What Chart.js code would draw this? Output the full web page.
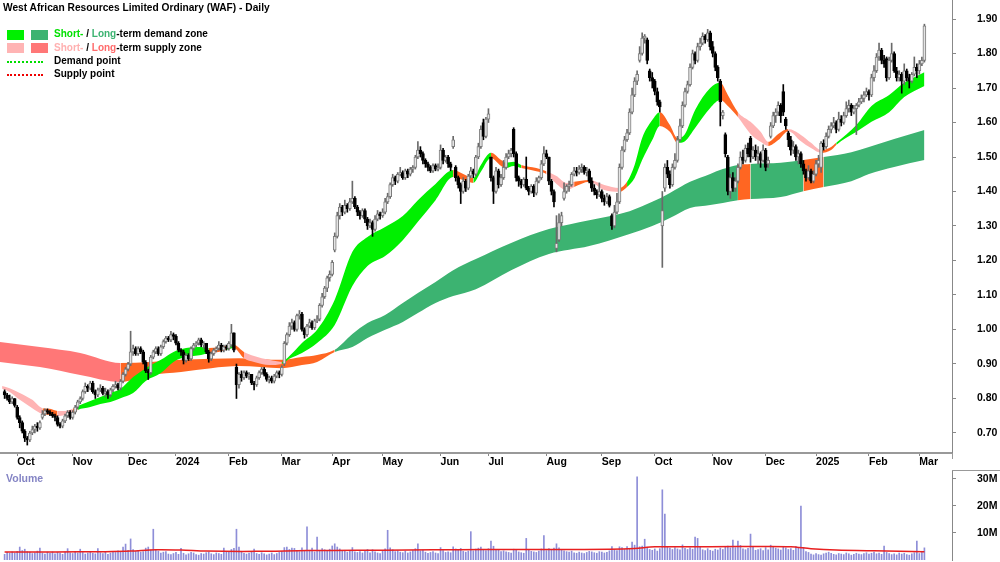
<!DOCTYPE html>
<html><head><meta charset="utf-8">
<script src="https://cdn.jsdelivr.net/npm/chart.js@4.4.1/dist/chart.umd.min.js"></script>
<style>
html,body{margin:0;padding:0;background:#fff;}
#wrap{position:relative;width:1000px;height:562px;overflow:hidden;font-family:'Liberation Sans',Arial,sans-serif;}
canvas{position:absolute;left:0;}
.t{position:absolute;font-weight:bold;font-size:10px;color:#000;white-space:nowrap;line-height:12px;}
.box{position:absolute;width:17px;height:10px;}
.dot{position:absolute;width:36px;height:0;border-top:2px dotted;}
</style></head><body>
<div id="wrap">
<canvas id="pc" width="1000" height="470" style="top:0"></canvas>
<canvas id="vc" width="1000" height="92" style="top:470px"></canvas>
<div class="t" style="left:3px;top:2px;font-size:10.2px">West African Resources Limited Ordinary (WAF) - Daily</div>
<div class="box" style="left:7px;top:30px;background:#00f000"></div>
<div class="box" style="left:31px;top:30px;background:#3cb371"></div>
<div class="t" style="left:54px;top:28px"><span style="color:#00e000">Short-</span> / <span style="color:#3cb371">Long</span>-term demand zone</div>
<div class="box" style="left:7px;top:43px;background:#ffb4b4"></div>
<div class="box" style="left:31px;top:43px;background:#ff7777"></div>
<div class="t" style="left:54px;top:42px"><span style="color:#ffb0b0">Short-</span> / <span style="color:#ff6b6b">Long</span>-term supply zone</div>
<div class="dot" style="left:7px;top:61px;border-color:#00dd00"></div>
<div class="t" style="left:54px;top:55px">Demand point</div>
<div class="dot" style="left:7px;top:74px;border-color:#ee0000"></div>
<div class="t" style="left:54px;top:68px">Supply point</div>
<div class="t" style="left:6px;top:472px;color:#8484c4;font-size:10.5px">Volume</div>
<div style="position:absolute;left:952px;top:470px;width:48px;height:1px;background:#999"></div>
<div style="position:absolute;left:952px;top:453px;width:1px;height:6px;background:#999"></div>
</div>
<script>
// ---- daily bars (index 0 = 25 Sep 2023 ... 365 = 5 Mar 2025) ----
const opens = [
0.82,0.81,0.80,0.79,0.80,0.775,0.745,0.73,0.705,0.685,
0.68,0.70,0.71,0.72,0.715,0.745,0.755,0.765,0.76,0.755,
0.75,0.745,0.725,0.72,0.735,0.75,0.76,0.745,0.76,0.775,
0.79,0.80,0.82,0.835,0.83,0.845,0.82,0.81,0.825,0.83,
0.815,0.82,0.81,0.825,0.835,0.84,0.83,0.85,0.87,0.885,
0.90,0.935,0.945,0.93,0.945,0.935,0.905,0.88,0.875,0.92,
0.935,0.945,0.93,0.95,0.965,0.975,0.97,0.985,0.98,0.96,
0.94,0.935,0.91,0.925,0.915,0.945,0.955,0.96,0.97,0.955,
0.96,0.935,0.915,0.93,0.94,0.945,0.955,0.94,0.95,0.945,
0.955,0.99,0.89,0.84,0.87,0.86,0.875,0.865,0.87,0.845,
0.84,0.86,0.875,0.885,0.87,0.855,0.86,0.85,0.865,0.875,
0.87,0.90,0.96,0.985,1.01,1.02,1.00,1.04,1.045,1.00,
0.985,1.01,1.02,1.005,1.025,1.03,1.07,1.095,1.12,1.15,
1.16,1.23,1.27,1.33,1.355,1.34,1.36,1.35,1.37,1.38,
1.355,1.34,1.33,1.345,1.32,1.30,1.31,1.29,1.32,1.335,
1.33,1.34,1.37,1.385,1.42,1.44,1.43,1.45,1.455,1.44,
1.46,1.45,1.465,1.47,1.50,1.52,1.51,1.49,1.48,1.47,
1.46,1.475,1.465,1.47,1.52,1.49,1.50,1.48,1.53,1.47,
1.44,1.42,1.40,1.43,1.41,1.445,1.46,1.45,1.50,1.53,
1.60,1.56,1.61,1.50,1.44,1.40,1.46,1.42,1.44,1.47,
1.50,1.51,1.58,1.51,1.44,1.43,1.42,1.435,1.41,1.40,
1.415,1.395,1.43,1.44,1.48,1.51,1.50,1.43,1.40,1.235,
1.26,1.31,1.38,1.40,1.415,1.42,1.45,1.46,1.455,1.465,
1.47,1.455,1.46,1.43,1.41,1.40,1.39,1.40,1.38,1.37,
1.385,1.33,1.30,1.34,1.37,1.47,1.52,1.55,1.57,1.63,
1.68,1.72,1.78,1.80,1.845,1.84,1.75,1.73,1.72,1.69,
1.66,1.30,1.41,1.47,1.45,1.42,1.47,1.49,1.55,1.59,
1.65,1.69,1.71,1.76,1.80,1.78,1.82,1.83,1.85,1.84,
1.86,1.82,1.80,1.76,1.72,1.62,1.565,1.50,1.40,1.44,
1.41,1.43,1.47,1.50,1.49,1.525,1.555,1.50,1.52,1.50,
1.51,1.49,1.52,1.48,1.56,1.59,1.62,1.63,1.65,1.69,
1.61,1.57,1.55,1.52,1.53,1.50,1.51,1.48,1.46,1.44,
1.46,1.43,1.45,1.48,1.47,1.54,1.53,1.56,1.58,1.59,
1.60,1.58,1.61,1.60,1.62,1.64,1.65,1.63,1.64,1.65,
1.66,1.67,1.68,1.69,1.68,1.73,1.75,1.79,1.81,1.78,
1.785,1.73,1.78,1.80,1.75,1.73,1.74,1.72,1.75,1.73,
1.72,1.74,1.76,1.75,1.77,1.78];
const highs = [
0.825,0.815,0.81,0.805,0.80,0.78,0.75,0.735,0.71,0.69,
0.705,0.72,0.725,0.73,0.735,0.765,0.77,0.77,0.765,0.76,
0.755,0.75,0.73,0.74,0.755,0.765,0.765,0.765,0.78,0.795,
0.805,0.825,0.845,0.84,0.85,0.85,0.825,0.83,0.84,0.835,
0.83,0.825,0.83,0.84,0.85,0.845,0.855,0.875,0.89,0.905,
0.995,0.955,0.95,0.95,0.95,0.94,0.91,0.885,0.925,0.94,
0.95,0.95,0.955,0.97,0.98,0.98,0.995,0.99,0.985,0.965,
0.945,0.94,0.93,0.93,0.95,0.96,0.965,0.975,0.975,0.965,
0.96,0.94,0.935,0.945,0.95,0.965,0.96,0.955,0.955,0.965,
1.015,0.99,0.90,0.875,0.88,0.88,0.88,0.875,0.87,0.85,
0.865,0.88,0.89,0.89,0.875,0.865,0.865,0.87,0.88,0.88,
0.895,0.965,0.99,1.02,1.03,1.025,1.045,1.055,1.05,1.005,
1.015,1.03,1.025,1.03,1.04,1.075,1.105,1.125,1.155,1.17,
1.20,1.28,1.34,1.365,1.36,1.375,1.365,1.38,1.43,1.385,
1.36,1.345,1.35,1.35,1.325,1.32,1.315,1.33,1.345,1.34,
1.35,1.38,1.395,1.425,1.45,1.445,1.455,1.47,1.46,1.465,
1.465,1.47,1.475,1.505,1.545,1.53,1.515,1.495,1.485,1.475,
1.48,1.48,1.48,1.535,1.525,1.505,1.505,1.485,1.56,1.475,
1.445,1.425,1.44,1.435,1.45,1.47,1.465,1.505,1.54,1.59,
1.61,1.615,1.64,1.50,1.445,1.47,1.465,1.45,1.49,1.51,
1.52,1.525,1.585,1.515,1.445,1.435,1.44,1.50,1.415,1.42,
1.42,1.44,1.445,1.49,1.53,1.52,1.50,1.435,1.405,1.33,
1.335,1.34,1.425,1.42,1.43,1.455,1.47,1.47,1.475,1.48,
1.475,1.47,1.465,1.44,1.42,1.405,1.425,1.405,1.39,1.395,
1.39,1.335,1.36,1.395,1.48,1.53,1.56,1.58,1.64,1.70,
1.73,1.75,1.82,1.86,1.855,1.845,1.755,1.745,1.725,1.70,
1.665,1.40,1.48,1.49,1.46,1.48,1.51,1.56,1.61,1.66,
1.70,1.72,1.77,1.81,1.805,1.83,1.845,1.86,1.855,1.87,
1.865,1.835,1.805,1.765,1.725,1.635,1.57,1.505,1.45,1.455,
1.44,1.48,1.515,1.52,1.535,1.54,1.56,1.53,1.535,1.53,
1.515,1.535,1.525,1.50,1.60,1.63,1.64,1.66,1.655,1.71,
1.615,1.575,1.56,1.545,1.535,1.52,1.515,1.49,1.465,1.475,
1.465,1.46,1.49,1.505,1.545,1.55,1.57,1.59,1.60,1.615,
1.605,1.63,1.62,1.63,1.66,1.665,1.655,1.65,1.655,1.67,
1.68,1.69,1.70,1.695,1.74,1.765,1.80,1.83,1.815,1.795,
1.79,1.79,1.83,1.805,1.76,1.75,1.745,1.77,1.755,1.74,
1.745,1.79,1.77,1.78,1.79,1.885];
const lows = [
0.80,0.795,0.785,0.785,0.775,0.74,0.715,0.70,0.675,0.665,
0.675,0.695,0.70,0.705,0.71,0.74,0.75,0.755,0.75,0.745,
0.735,0.72,0.715,0.715,0.73,0.745,0.74,0.74,0.755,0.77,
0.785,0.795,0.815,0.82,0.825,0.815,0.80,0.805,0.82,0.81,
0.805,0.80,0.805,0.82,0.83,0.825,0.825,0.845,0.865,0.88,
0.895,0.925,0.925,0.925,0.93,0.90,0.875,0.855,0.87,0.915,
0.93,0.925,0.925,0.945,0.96,0.965,0.965,0.97,0.955,0.935,
0.925,0.90,0.905,0.91,0.91,0.94,0.95,0.955,0.95,0.945,
0.93,0.905,0.91,0.925,0.935,0.94,0.935,0.935,0.94,0.94,
0.95,0.935,0.80,0.83,0.85,0.855,0.86,0.855,0.84,0.825,
0.835,0.855,0.87,0.865,0.85,0.845,0.845,0.845,0.86,0.86,
0.865,0.895,0.955,0.98,1.00,0.995,0.995,1.03,0.995,0.975,
0.98,1.005,1.00,1.00,1.02,1.025,1.065,1.09,1.11,1.14,
1.155,1.225,1.265,1.32,1.33,1.335,1.34,1.345,1.365,1.35,
1.33,1.32,1.325,1.31,1.29,1.295,1.27,1.285,1.315,1.32,
1.325,1.335,1.365,1.38,1.415,1.42,1.425,1.445,1.435,1.435,
1.44,1.445,1.455,1.465,1.495,1.50,1.48,1.47,1.46,1.455,
1.455,1.46,1.46,1.465,1.48,1.485,1.47,1.46,1.525,1.43,
1.41,1.365,1.395,1.40,1.405,1.44,1.44,1.445,1.495,1.525,
1.55,1.555,1.60,1.43,1.365,1.395,1.41,1.415,1.435,1.465,
1.495,1.50,1.50,1.43,1.415,1.41,1.415,1.405,1.39,1.395,
1.385,1.39,1.425,1.435,1.475,1.495,1.42,1.39,1.355,1.225,
1.255,1.30,1.375,1.395,1.40,1.415,1.445,1.445,1.45,1.455,
1.45,1.445,1.425,1.40,1.39,1.38,1.385,1.37,1.36,1.365,
1.355,1.29,1.295,1.335,1.365,1.465,1.515,1.545,1.565,1.625,
1.675,1.71,1.775,1.795,1.83,1.77,1.72,1.70,1.68,1.65,
1.63,1.18,1.40,1.44,1.41,1.415,1.465,1.485,1.545,1.585,
1.645,1.685,1.705,1.755,1.77,1.775,1.81,1.825,1.83,1.835,
1.81,1.79,1.75,1.72,1.59,1.61,1.50,1.39,1.38,1.40,
1.40,1.425,1.465,1.48,1.485,1.50,1.485,1.495,1.49,1.48,
1.47,1.485,1.46,1.47,1.555,1.585,1.60,1.62,1.60,1.62,
1.58,1.53,1.505,1.51,1.49,1.48,1.47,1.45,1.43,1.435,
1.425,1.425,1.445,1.47,1.455,1.52,1.525,1.555,1.57,1.585,
1.57,1.575,1.59,1.595,1.615,1.63,1.62,1.625,1.565,1.645,
1.655,1.66,1.675,1.665,1.675,1.72,1.745,1.78,1.77,1.76,
1.72,1.725,1.775,1.745,1.72,1.72,1.685,1.71,1.72,1.70,
1.715,1.735,1.73,1.74,1.765,1.775];
const closes = [
0.81,0.80,0.79,0.80,0.78,0.745,0.73,0.705,0.685,0.68,
0.70,0.71,0.72,0.715,0.73,0.755,0.765,0.76,0.755,0.75,
0.745,0.725,0.72,0.735,0.75,0.76,0.745,0.76,0.775,0.79,
0.80,0.82,0.835,0.83,0.845,0.82,0.81,0.825,0.83,0.815,
0.82,0.81,0.825,0.835,0.84,0.83,0.85,0.87,0.885,0.90,
0.935,0.945,0.93,0.945,0.935,0.905,0.88,0.875,0.92,0.935,
0.945,0.93,0.95,0.965,0.975,0.97,0.985,0.98,0.96,0.94,
0.935,0.91,0.925,0.915,0.945,0.955,0.96,0.97,0.955,0.96,
0.935,0.915,0.93,0.94,0.945,0.955,0.94,0.95,0.945,0.96,
0.99,0.94,0.84,0.87,0.86,0.875,0.865,0.87,0.845,0.84,
0.86,0.875,0.885,0.87,0.855,0.86,0.85,0.865,0.875,0.87,
0.89,0.96,0.985,1.01,1.02,1.00,1.04,1.045,1.00,0.985,
1.01,1.02,1.005,1.025,1.03,1.07,1.095,1.12,1.15,1.16,
1.195,1.27,1.33,1.355,1.34,1.36,1.35,1.37,1.38,1.355,
1.34,1.33,1.345,1.32,1.30,1.31,1.29,1.32,1.335,1.33,
1.34,1.37,1.385,1.42,1.44,1.43,1.45,1.455,1.44,1.46,
1.45,1.465,1.47,1.50,1.52,1.51,1.49,1.48,1.47,1.46,
1.475,1.465,1.47,1.52,1.49,1.50,1.48,1.47,1.55,1.44,
1.42,1.40,1.43,1.41,1.445,1.46,1.45,1.50,1.53,1.58,
1.56,1.61,1.625,1.44,1.40,1.46,1.42,1.44,1.47,1.50,
1.51,1.52,1.51,1.44,1.43,1.42,1.435,1.41,1.40,1.415,
1.395,1.43,1.44,1.48,1.51,1.50,1.43,1.40,1.37,1.25,
1.31,1.33,1.40,1.415,1.42,1.45,1.46,1.455,1.465,1.47,
1.455,1.46,1.43,1.41,1.40,1.39,1.40,1.38,1.37,1.385,
1.36,1.30,1.34,1.37,1.47,1.52,1.55,1.57,1.63,1.68,
1.72,1.74,1.80,1.845,1.85,1.78,1.73,1.72,1.69,1.66,
1.645,1.345,1.47,1.45,1.42,1.47,1.49,1.55,1.59,1.65,
1.69,1.71,1.76,1.80,1.78,1.82,1.83,1.85,1.84,1.86,
1.82,1.80,1.76,1.73,1.66,1.63,1.51,1.40,1.44,1.41,
1.43,1.47,1.50,1.49,1.525,1.51,1.50,1.52,1.50,1.51,
1.49,1.52,1.47,1.49,1.59,1.62,1.63,1.65,1.62,1.63,
1.59,1.55,1.52,1.53,1.50,1.51,1.48,1.46,1.44,1.46,
1.43,1.45,1.48,1.49,1.54,1.53,1.56,1.58,1.59,1.60,
1.58,1.61,1.60,1.62,1.64,1.65,1.63,1.64,1.65,1.66,
1.67,1.68,1.69,1.68,1.73,1.75,1.79,1.81,1.78,1.77,
1.73,1.78,1.80,1.75,1.73,1.74,1.72,1.75,1.73,1.72,
1.74,1.76,1.75,1.77,1.78,1.88];
// volume in millions
const volumes = [
2.1,2.8,2.5,3.0,2.6,3.2,4.8,3.5,4.0,3.1,
2.9,2.4,2.7,3.3,4.4,2.6,2.2,2.9,2.5,3.0,
2.3,2.8,2.6,2.1,2.9,4.2,2.7,2.4,3.1,2.6,
4.0,2.8,2.2,2.6,3.0,2.5,2.3,4.2,2.7,2.4,
2.9,2.1,2.6,3.1,2.8,3.4,3.0,4.8,5.9,3.6,
7.8,3.9,3.2,3.5,2.9,3.1,4.4,4.8,3.7,11.4,
3.8,3.3,2.6,2.9,3.1,2.2,2.0,2.4,2.8,2.1,
4.3,2.5,1.9,2.3,2.8,2.6,2.0,1.8,2.4,2.2,
2.7,3.0,2.3,2.0,2.6,2.4,2.1,4.4,2.9,3.2,
3.9,4.3,11.4,4.8,3.1,2.5,2.2,2.6,3.0,4.0,
2.4,2.1,2.7,2.3,1.9,2.2,2.6,2.0,2.4,2.8,
3.2,4.6,4.8,3.9,4.4,4.3,3.5,3.1,4.5,3.4,
12.3,3.6,4.4,3.0,8.5,3.3,4.2,3.8,3.5,4.0,
5.2,6.0,4.8,4.1,3.3,3.6,2.9,3.4,4.6,3.0,
2.8,3.1,2.6,3.5,3.9,2.7,3.8,3.0,2.6,2.4,
3.2,4.1,11.0,4.5,3.8,3.1,3.4,2.9,2.7,3.3,
2.6,3.0,3.5,4.2,6.0,3.4,3.7,2.9,2.5,2.8,
3.1,2.6,2.4,4.6,3.5,2.8,3.0,2.7,4.9,4.1,
3.6,4.3,3.2,2.9,3.3,10.5,3.4,4.0,4.4,4.8,
3.9,3.5,4.2,7.0,5.1,3.6,3.8,3.1,3.4,3.0,
2.8,2.6,4.0,3.7,3.0,2.7,2.5,8.0,3.9,3.2,
3.0,2.8,3.3,4.1,9.0,3.5,4.2,3.6,4.4,6.0,
4.5,3.8,3.4,3.1,2.9,3.3,2.7,2.5,2.9,2.6,
2.4,2.8,3.2,3.0,2.7,2.5,3.1,2.9,2.6,2.8,
3.4,5.0,3.8,3.5,4.9,4.6,3.9,5.0,4.2,6.6,
5.5,30.8,4.9,5.2,7.7,4.5,3.9,3.6,4.1,3.3,
4.2,26.0,17.0,4.8,4.4,3.9,4.6,4.1,3.8,5.6,
4.3,3.9,4.5,4.0,8.5,8.0,4.7,3.8,3.5,4.2,
3.6,3.3,4.0,3.7,4.4,3.9,4.8,5.2,4.5,7.4,
4.6,7.0,5.4,4.1,3.8,4.3,9.6,4.9,3.6,3.9,
4.2,3.5,4.6,3.8,5.5,4.9,4.4,4.1,3.7,4.8,
4.5,3.9,4.2,3.6,5.0,4.4,20.0,4.7,3.1,2.8,
2.2,1.9,2.4,2.0,1.8,2.3,2.6,2.9,2.5,2.1,
1.9,2.4,2.2,2.0,2.6,2.3,1.8,2.1,2.5,2.2,
2.0,2.4,2.7,2.2,2.5,2.9,2.3,2.6,2.1,5.2,
2.8,2.4,2.0,2.3,1.9,2.6,2.2,2.5,2.0,1.8,
2.3,2.7,7.0,2.4,2.9,4.5];
// volume moving average (bar index, millions)
const volMaX = [0,20,40,50,60,70,80,100,120,140,160,180,200,220,240,250,258,280,300,312,320,330,345,365];
const volMa  = [3.0,3.0,3.1,3.3,3.8,3.7,3.3,3.2,3.5,3.6,3.7,3.8,3.9,3.9,4.0,4.3,4.9,4.9,5.0,4.9,4.2,3.7,3.4,3.1];

// short-term zone (bar index, upper/lower edge, zone type: D demand, S supply, T transition)
const shortX = [-1,2,6,11,15,18,21,24,27,29, 34,38,42,46,51,56,62,67,72,78,
  81,85,88,91,95,99,105,110,113,118, 124,131,138,144,151,158,164,171,178,182,
  186,189,193,197,199,202,205,211,215,219, 223,226,232,238,244,247,250,253,257,260,
  264,267,270,274,280,284,287,291,296,300, 303,307,311,316,320,324,328,330,338,344, 351,357,365];
const shortTop = [0.836,0.830,0.816,0.796,0.772,0.770,0.764,0.764,0.770,0.778,
  0.793,0.804,0.816,0.828,0.862,0.888,0.912,0.935,0.946,0.949,
  0.946,0.949,0.952,0.955,0.935,0.923,0.912,0.906,0.923,0.961,
  0.999,1.086,1.225,1.268,1.297,1.329,1.375,1.422,1.462,1.451,
  1.439,1.477,1.512,1.491,1.483,1.486,1.477,1.468,1.459,1.445,
  1.425,1.428,1.433,1.419,1.410,1.428,1.477,1.555,1.607,1.630,
  1.593,1.555,1.567,1.636,1.700,1.715,1.680,1.630,1.602,1.573,
  1.544,1.567,1.581,1.564,1.541,1.520,1.529,1.541,1.593,1.648,
  1.680,1.715,1.746];
const shortBot = [0.828,0.819,0.796,0.772,0.755,0.752,0.749,0.752,0.758,0.767,
  0.775,0.784,0.790,0.801,0.816,0.851,0.874,0.906,0.920,0.926,
  0.932,0.935,0.941,0.946,0.917,0.906,0.897,0.900,0.915,0.932,
  0.961,1.013,1.126,1.184,1.213,1.259,1.312,1.375,1.442,1.433,
  1.425,1.457,1.497,1.474,1.468,1.474,1.468,1.459,1.451,1.422,
  1.404,1.413,1.428,1.404,1.399,1.413,1.439,1.491,1.549,1.590,
  1.573,1.541,1.546,1.584,1.642,1.665,1.648,1.616,1.567,1.544,
  1.532,1.549,1.575,1.546,1.526,1.512,1.520,1.535,1.573,1.602,
  1.630,1.674,1.706];
const shortZone = ('SSSSTTSSTD' + 'DDDDDDDDDD' + 'TTDTSSSDDD' + 'DDDDDDDDTT' + 'DDTTDDTTSS' +
  'STSSTDDDDT' + 'TDDDDTTSSS' + 'TTSSSTTDDD' + 'DDD').split('');

// long-term zone
const longX = [-2,14,30,46,58,70,82,93,110,118,124,131,138,144,151,158,164,171,178,187,
  201,216,232,248,257,264,272,280,285,291,296,308,317,325,336,343,353,365];
const longTop = [0.964,0.949,0.932,0.903,0.906,0.912,0.915,0.917,0.912,0.920,0.926,0.941,0.987,1.019,1.042,1.077,1.106,1.138,1.172,1.204,
  1.251,1.291,1.317,1.343,1.370,1.396,1.428,1.451,1.465,1.477,1.480,1.483,1.491,1.500,1.514,1.529,1.552,1.578];
const longBot = [0.906,0.891,0.868,0.848,0.868,0.877,0.888,0.894,0.888,0.897,0.906,0.935,0.949,0.975,0.999,1.022,1.048,1.077,1.097,1.117,
  1.172,1.219,1.242,1.277,1.300,1.323,1.352,1.361,1.367,1.375,1.378,1.384,1.401,1.413,1.430,1.451,1.471,1.491];
const longZone = ('SSS' + 'TTTTTTTT' + 'DDDDDDDDDDDDDDDDDD' + 'T' + 'DD' + 'T' + 'DDDDD').split('');

// axes
const monthTickIdx = [5,27,49,68,89,110,130,150,173,192,215,237,258,281,302,322,343,363];
const monthTickLabels = ['Oct','Nov','Dec','2024','Feb','Mar','Apr','May','Jun','Jul','Aug','Sep','Oct','Nov','Dec','2025','Feb','Mar'];
const priceTicks = [0.7,0.8,0.9,1.0,1.1,1.2,1.3,1.4,1.5,1.6,1.7,1.8,1.9];
const volTicks = [10,20,30];

// ---------------- rendering ----------------
const FONT = "'Liberation Sans', Arial, sans-serif";
const X_MIN = -1.83, X_MAX = 375.95;
const PALETTE = {
  short: {D: '#00f000', S: '#ffb4b4', T: '#ff6622'},
  long:  {D: '#3cb371', S: '#ff7777', T: '#ff6622'}
};
function band(xs, tops, bots, zones, pal, order) {
  const pts = ys => xs.map((x, k) => ({x: x, y: ys[k]}));
  const common = {type: 'line', pointRadius: 0, pointHoverRadius: 0, borderWidth: 0,
    borderColor: 'rgba(0,0,0,0)', cubicInterpolationMode: 'monotone', order: order};
  return [
    Object.assign({}, common, {label: 'top', data: pts(tops), fill: '+1', backgroundColor: pal.D,
      segment: {backgroundColor: ctx => pal[zones[ctx.p0DataIndex]] || pal.D}}),
    Object.assign({}, common, {label: 'bot', data: pts(bots), fill: false, backgroundColor: 'rgba(0,0,0,0)'})
  ];
}
const isUp = i => closes[i] >= opens[i];
const pick = (ctx, up, down) => (ctx.dataIndex === undefined ? down : (isUp(ctx.dataIndex) ? up : down));

const yAxisCommon = (min, max, ticksArr, fmt) => ({
  position: 'right', min: min, max: max,
  afterFit: s => { s.width = 48; s.paddingTop = 0; s.paddingBottom = 0; },
  afterBuildTicks: s => { s.ticks = ticksArr.map(v => ({value: v})); },
  grid: {drawOnChartArea: false, drawTicks: true, tickLength: 4, color: '#888', offset: false},
  border: {display: true, color: '#888', width: 1},
  ticks: {crossAlign: 'near', padding: 21, color: '#000', autoSkip: false,
    font: {family: FONT, size: 10.5, weight: 'bold'}, callback: fmt}
});

new Chart(document.getElementById('pc'), {
  type: 'bar',
  data: {datasets: [
    ...band(shortX, shortTop, shortBot, shortZone, PALETTE.short, 5),
    ...band(longX, longTop, longBot, longZone, PALETTE.long, 8),
    {type: 'bar', label: 'wicks', data: lows.map((l, i) => ({x: i, y: [l, highs[i]]})),
      barThickness: 1, grouped: false, order: 1, borderWidth: 0,
      backgroundColor: ctx => pick(ctx, '#6a6a6a', '#000')},
    {type: 'bar', label: 'bodies', data: opens.map((o, i) => ({x: i, y: [Math.min(o, closes[i]), Math.max(o, closes[i])]})),
      barThickness: 3, grouped: false, order: 0, minBarLength: 1, borderWidth: 1, borderSkipped: false,
      backgroundColor: ctx => pick(ctx, '#e4e4e4', '#000'),
      borderColor: ctx => pick(ctx, '#7c7c7c', '#000')}
  ]},
  options: {
    responsive: false, animation: false, devicePixelRatio: 1,
    layout: {padding: 0},
    plugins: {legend: {display: false}, tooltip: {enabled: false}},
    scales: {
      x: {type: 'linear', min: X_MIN, max: X_MAX, offset: false,
        afterFit: s => { s.height = 17; s.paddingLeft = 0; s.paddingRight = 0; },
        afterBuildTicks: s => { s.ticks = monthTickIdx.map(v => ({value: v})); },
        grid: {drawOnChartArea: false, drawTicks: true, tickLength: 3, color: '#888', offset: false},
        border: {display: true, color: '#999', width: 2},
        ticks: {align: 'start', autoSkip: false, maxRotation: 0, padding: 0, color: '#000',
          font: {family: FONT, size: 10.5, weight: 'bold'},
          callback: (v, idx) => monthTickLabels[idx]}},
      y: yAxisCommon(0.642, 1.9551, priceTicks, v => Number(v).toFixed(2))
    }
  }
});

new Chart(document.getElementById('vc'), {
  type: 'bar',
  data: {datasets: [
    {type: 'line', label: 'vol ma', data: volMaX.map((x, k) => ({x: x, y: volMa[k]})),
      borderColor: '#e82020', borderWidth: 1.5, pointRadius: 0, tension: 0.3, order: 0, fill: false},
    {type: 'bar', label: 'volume', data: volumes.map((v, i) => ({x: i, y: v})),
      barThickness: 1, grouped: false, order: 1, backgroundColor: '#8e8ed8', borderWidth: 0}
  ]},
  options: {
    responsive: false, animation: false, devicePixelRatio: 1,
    layout: {padding: {bottom: 2}},
    plugins: {legend: {display: false}, tooltip: {enabled: false}},
    scales: {
      x: {type: 'linear', min: X_MIN, max: X_MAX, offset: false, display: false},
      y: yAxisCommon(0, 33.33, volTicks, v => v + 'M')
    }
  }
});
</script>
</body></html>
